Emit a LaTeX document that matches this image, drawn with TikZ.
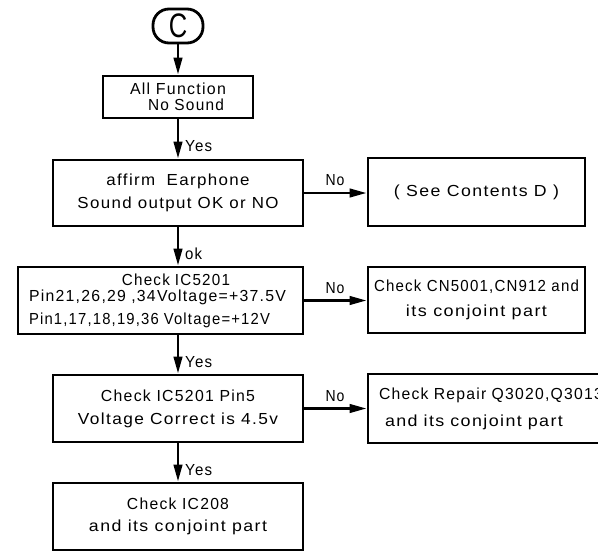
\documentclass[tikz,border=0pt]{standalone}
\usepackage{fontspec}
\usetikzlibrary{arrows.meta}
\newfontfamily\cadfont[LetterSpace=8]{Liberation Sans}
\newcommand\tw[2]{\resizebox{#1pt}{\height}{#2}}
\tikzset{
  box/.style={draw, line width=2.8pt, rectangle, inner sep=0pt, align=center,
    font=\cadfont\fontsize{16}{23}\selectfont},
  lbl/.style={font=\cadfont\fontsize{16}{16}\selectfont, inner sep=0pt},
  arr/.style={line width=2.6pt, -{Triangle[length=17pt,width=8.5pt]}},
}
\begin{document}
\begin{tikzpicture}[x=1pt,y=-1pt]
\useasboundingbox (0,0) rectangle (598,552);
\clip (0,0) rectangle (598,552);
% start oval
\node[draw, line width=2.8pt, rectangle, rounded corners=16pt, minimum width=50pt,
  minimum height=34pt, inner sep=0pt, font=\fontspec{Liberation Sans}\fontsize{34}{34}\selectfont]
  (c) at (178,26) {\scalebox{0.75}[1]{C}};
% main column
\node[box, minimum width=150pt, minimum height=42pt, font=\cadfont\fontsize{16}{16}\selectfont]
  (b1) at (178,97) {\tw{96}{All Function}\\\hspace*{16pt}\tw{76}{No Sound}};
\node[box, minimum width=250pt, minimum height=66pt]
  (b2) at (178,193) {\tw{143}{affirm\hspace{5pt} Earphone}\\\tw{201}{Sound output OK or NO}};
\node[box, text width=263pt, inner xsep=11pt, minimum height=67pt, align=left,
  font=\cadfont\fontsize{16}{16}\selectfont]
  (b3) at (160.5,300.5) {\hspace*{93pt}\tw{108}{Check IC5201}\\\tw{257}{Pin21,26,29 ,34Voltage=+37.5V}\\[7pt]\tw{241}{Pin1,17,18,19,36 Voltage=+12V}};
\node[box, minimum width=250pt, minimum height=67pt]
  (b4) at (178,408.5) {\tw{154}{Check IC5201 Pin5}\\\tw{200}{Voltage Correct is 4.5v}};
\node[box, minimum width=250pt, minimum height=67pt, font=\cadfont\fontsize{16}{22}\selectfont]
  (b5) at (178,516.5) {\tw{102}{Check IC208}\\\tw{178}{and its conjoint part}};
% right column
\node[box, minimum width=217pt, minimum height=68pt]
  (rd) at (476.5,192) {\tw{165}{( See Contents D )}};
\node[box, minimum width=217pt, minimum height=66pt, font=\cadfont\fontsize{16}{25}\selectfont]
  (rcn) at (476.5,300) {\tw{205}{Check CN5001,CN912 and}\\\tw{141}{its conjoint part}};
\node[box, text width=228pt, inner xsep=11pt, minimum height=69pt, align=left,
  font=\cadfont\fontsize{16}{27}\selectfont]
  (rq) at (493,408.5) {\tw{224}{Check Repair Q3020,Q3013}\\\hspace*{6pt}\tw{178}{and its conjoint part}};
% vertical connectors
\draw[arr] (c) -- (b1);
\draw[arr] (b1) -- (b2);
\draw[arr] (b2.south) -- (b2.south |- b3.north);
\draw[arr] (b4.north |- b3.south) -- (b4.north);
\draw[arr] (b4) -- (b5);
% horizontal connectors
\draw[arr] (b2.east) -- (b2.east -| rd.west);
\draw[arr] (b3.east) -- (b3.east -| rcn.west);
\draw[arr] (b4.east) -- (b4.east -| rq.west);
% labels
\node[lbl, anchor=west] (y1) at (185,146) {\tw{27}{Yes}};
\node[lbl, anchor=west] (ok) at (185,254) {\tw{17}{ok}};
\node[lbl, anchor=west] (y2) at (185,362) {\tw{27}{Yes}};
\node[lbl, anchor=west] (y3) at (185,470) {\tw{27}{Yes}};
\node[lbl] (n1) at (335,180) {\tw{19}{No}};
\node[lbl] (n2) at (335,288) {\tw{19}{No}};
\node[lbl] (n3) at (335,396) {\tw{19}{No}};
\end{tikzpicture}
\end{document}
